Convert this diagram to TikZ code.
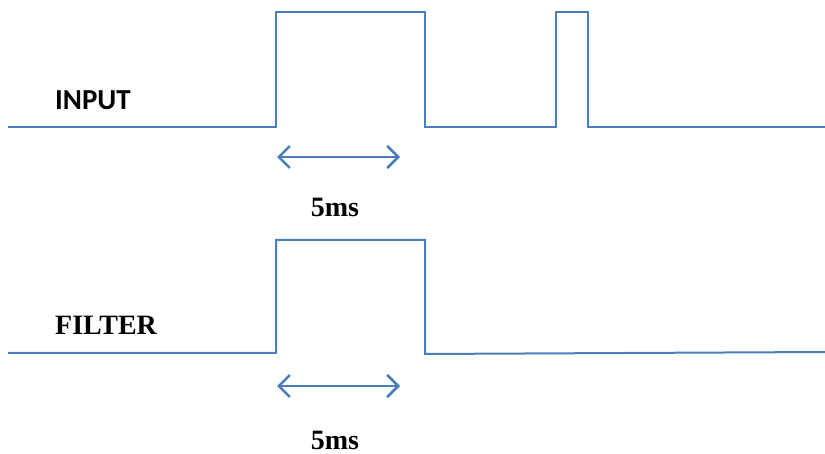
\documentclass[tikz,border=0pt]{standalone}
\usepackage{fontspec}
\setmainfont{Liberation Serif}
\newfontfamily\calib{Carlito}
\usetikzlibrary{arrows.meta}
\definecolor{wave}{HTML}{4A7EBB}
\tikzset{
  signal/.style={draw=wave, line width=2pt, line join=miter},
  span/.style={draw=wave, line width=2.5pt, {Straight Barb[length=11pt,width=22pt,line width=2.5pt]}-{Straight Barb[length=11pt,width=22pt,line width=2.5pt]}},
  lbl/.style={inner sep=0pt, font=\bfseries\fontsize{28}{30}\selectfont},
}
\begin{document}
\begin{tikzpicture}[x=1pt,y=-1pt]
\useasboundingbox (0,0) rectangle (825,454);
% input waveform
\coordinate (i0) at (8,127);
\coordinate (i1) at (276,127);
\coordinate (i2) at (276,12);
\coordinate (i3) at (425,12);
\coordinate (i4) at (425,127);
\coordinate (i5) at (556,127);
\coordinate (i6) at (556,12);
\coordinate (i7) at (588,12);
\coordinate (i8) at (588,127);
\coordinate (i9) at (825,127);
\draw[signal] (i0) -- (i1) -- (i2) -- (i3) -- (i4) -- (i5) -- (i6) -- (i7) -- (i8) -- (i9);
% filter waveform
\coordinate (f0) at (8,353);
\coordinate (f1) at (276,353);
\coordinate (f2) at (276,240);
\coordinate (f3) at (425,240);
\coordinate (f4) at (425,354);
\coordinate (f5) at (825,352);
\draw[signal] (f0) -- (f1) -- (f2) -- (f3) -- (f4) -- (f5);
% labels
\node[lbl, anchor=west, font=\calib\bfseries\fontsize{29}{30}\selectfont] (input) at (55,100) {INPUT};
\node[lbl, anchor=west] (filter) at (55,325) {FILTER};
% spans
\coordinate (a1) at (277,157);
\coordinate (a2) at (400,157);
\draw[span] (a1) -- (a2);
\node[lbl] (t1) at (335,207) {5ms};
\coordinate (b1) at (277,386);
\coordinate (b2) at (400,386);
\draw[span] (b1) -- (b2);
\node[lbl] (t2) at (335,440) {5ms};
\end{tikzpicture}
\end{document}
